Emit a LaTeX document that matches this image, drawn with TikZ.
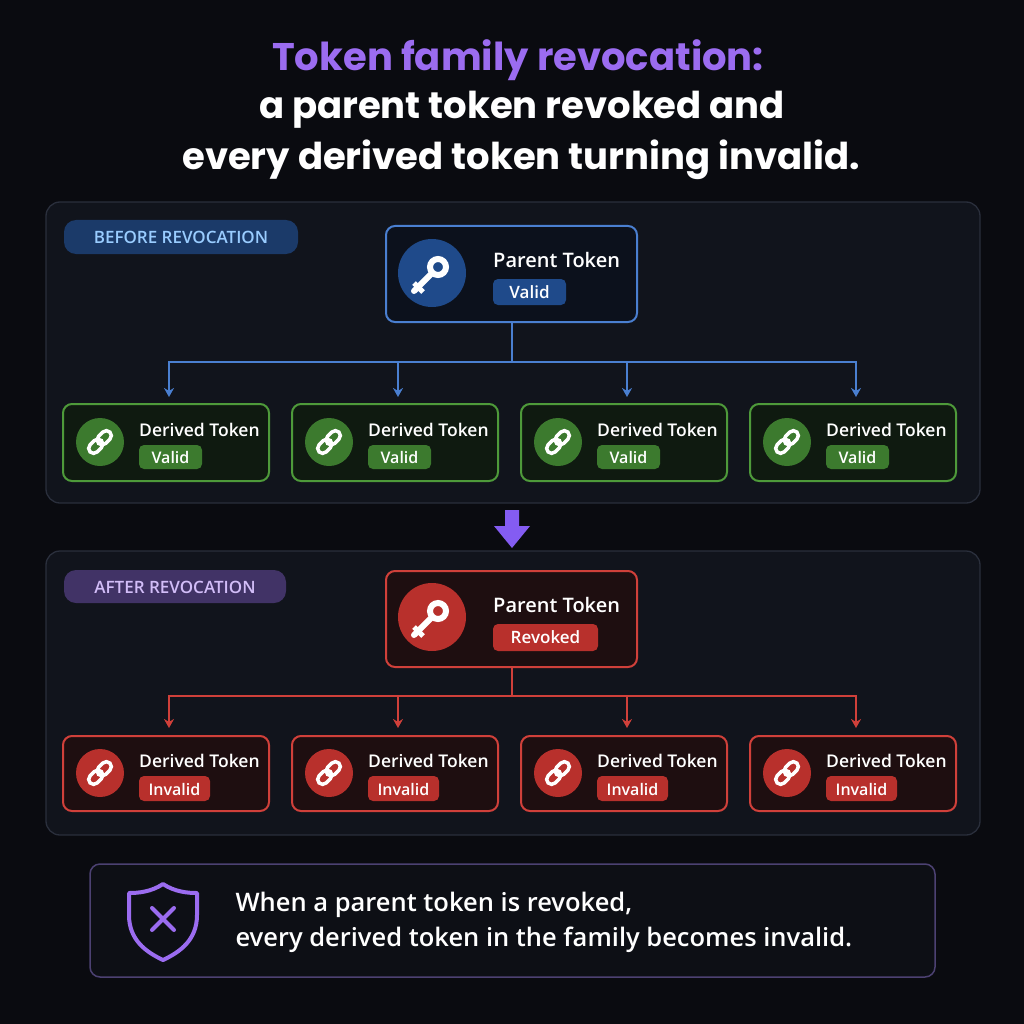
\documentclass[tikz,border=0pt]{standalone}
\usepackage{fontspec}
\setmainfont{Open Sans}[BoldFont={* Semibold},BoldFeatures={FakeBold=0}]
\newfontfamily\titlefont{Poppins}
\usetikzlibrary{arrows.meta,shapes.arrows}
\definecolor{bg}{HTML}{0A0B10}
\definecolor{panel}{HTML}{11141C}
\definecolor{panelb}{HTML}{2A2F3C}
\definecolor{purp}{HTML}{9B6CF0}
\definecolor{blueb}{HTML}{4A7FD0}
\definecolor{bluef}{HTML}{1F4A8A}
\definecolor{greenb}{HTML}{4E9A3A}
\definecolor{greenf}{HTML}{3C7A2E}
\definecolor{greenbg}{HTML}{0F1A10}
\definecolor{redb}{HTML}{D0403A}
\definecolor{redf}{HTML}{B8302C}
\definecolor{redbg}{HTML}{1E0E10}
\tikzset{
  x=1pt,y=-1pt,
  panel/.style={draw=panelb,fill=panel,rounded corners=14pt,line width=1.3pt},
  box/.style={rounded corners=9pt,line width=2pt},
  lbl/.style={text=white,font=\fontsize{20.5}{20.5}\selectfont,anchor=west,inner sep=0},
  dlbl/.style={text=white,font=\fontsize{18}{18}\selectfont,anchor=west,inner sep=0},
  pill/.style={rounded corners=5pt,text=white,font=\fontsize{16.5}{16.5}\selectfont,inner sep=0,anchor=center},
  conn/.style={line width=2.2pt,-{Stealth[length=9pt,width=10pt]}},
  pic key/.pic={
    \draw[white,line width=6pt] (6,-6) circle (8);
    \draw[white,line width=6pt,line cap=round] (0,0) -- (-18,18);
    \draw[white,line width=5pt] (-14,14) -- (-9,19) (-18,10)--(-13,15);
  },
  pic link/.pic={
    \begin{scope}[rotate=45]
    \draw[white,line width=3.5pt,rounded corners=5pt] (-14,-5) rectangle (2,5);
    \draw[white,line width=3.5pt,rounded corners=5pt] (-2,-5) rectangle (14,5);
    \end{scope}
  }
}
\begin{document}
\begin{tikzpicture}
\fill[bg] (0,0) rectangle (1024,1024);
\useasboundingbox (0,0) rectangle (1024,1024);
% title
\node[text=purp,font=\titlefont\bfseries\fontsize{38.5}{38.5}\selectfont] (t1) at (518,60) {Token family revocation:};
\node[text=white,font=\titlefont\bfseries\fontsize{37}{37}\selectfont] (t2) at (522,110) {a parent token revoked and};
\node[text=white,font=\titlefont\bfseries\fontsize{37}{37}\selectfont] (t3) at (521,160) {every derived token turning invalid.};
% panels
\draw[panel] (46,202) rectangle (980,503);
\draw[panel] (46,551) rectangle (980,835);
\fill[rounded corners=12pt,fill=bluef!70!panel] (64,220) rectangle (298,254);
\node[text=blue!25!white!80!cyan,font=\bfseries\fontsize{17}{17}\selectfont] (l1) at (181,237) {BEFORE REVOCATION};
\fill[rounded corners=12pt,fill=purp!35!panel] (64,570) rectangle (286,603);
\node[text=purp!45!white,font=\bfseries\fontsize{17}{17}\selectfont] (l2) at (175,587) {AFTER REVOCATION};
% before parent
\draw[box,draw=blueb,fill=bluef!10!bg] (386,226) rectangle (637,322);
\fill[bluef] (432,273) circle (34);
\pic at (432,273) {pic key};
\node[lbl,font=\bfseries\fontsize{20}{20}\selectfont] at (493,260) {Parent Token};
\fill[bluef,rounded corners=5pt] (493,279) rectangle (566,305);
\node[pill,font=\bfseries\fontsize{17}{17}\selectfont] at (529.5,292) {Valid};
% after parent
\draw[box,draw=redb,fill=redbg] (386,571) rectangle (637,667);
\fill[redf] (432,617) circle (34);
\pic at (432,617) {pic key};
\node[lbl,font=\bfseries\fontsize{20}{20}\selectfont] at (493,605) {Parent Token};
\fill[redf,rounded corners=5pt] (493,624) rectangle (598,651);
\node[pill,font=\bfseries\fontsize{17}{17}\selectfont] at (545.5,637.5) {Revoked};
% derived
\foreach \x [count=\i] in {63,292,521,750}{
  \draw[box,draw=greenb,fill=greenbg] (\x,404) rectangle (\x+206,481);
  \fill[greenf] (\x+37,442) circle (24);
  \pic at (\x+37,442) {pic link};
  \node[dlbl,font=\bfseries\fontsize{17.5}{17.5}\selectfont] at (\x+76,430) {Derived Token};
  \fill[greenf,rounded corners=5pt] (\x+76,445) rectangle (\x+139,469);
  \node[pill,font=\bfseries\fontsize{16}{16}\selectfont] at (\x+107.5,457) {Valid};
  \draw[box,draw=redb,fill=redbg] (\x,736) rectangle (\x+206,811);
  \fill[redf] (\x+37,773) circle (24);
  \pic at (\x+37,773) {pic link};
  \node[dlbl,font=\bfseries\fontsize{17.5}{17.5}\selectfont] at (\x+76,761) {Derived Token};
  \fill[redf,rounded corners=5pt] (\x+76,776) rectangle (\x+147,801);
  \node[pill,font=\bfseries\fontsize{16}{16}\selectfont] at (\x+111.5,789) {Invalid};
  \coordinate (db\i) at (\x+106,397);
  \coordinate (da\i) at (\x+106,728);
}
% connectors
\draw[blueb,line width=2.2pt] (512,322) -- (512,362);
\draw[blueb,line width=2.2pt] (168,362) -- (857,362);
\foreach \i in {1,...,4}{\draw[blueb,conn] (db\i |- 0,362) -- (db\i);}
\draw[redb,line width=2.2pt] (512,667) -- (512,696);
\draw[redb,line width=2.2pt] (168,696) -- (857,696);
\foreach \i in {1,...,4}{\draw[redb,conn] (da\i |- 0,696) -- (da\i);}
% purple arrow
\fill[purp!85!blue] (505,510) -- (519,510) -- (519,526) -- (530,526) -- (512,548) -- (494,526) -- (505,526) -- cycle;
% bottom box
\draw[draw=purp!30!panelb,fill=bg!60!panel,rounded corners=10pt,line width=1.5pt] (90,864) rectangle (935,977);
\draw[purp,line width=4pt,line join=round] (163,884) .. controls (175,892) and (188,893) .. (197,893) -- (197,915) .. controls (197,940) and (180,952) .. (163,960) .. controls (146,952) and (129,940) .. (129,915) -- (129,893) .. controls (138,893) and (151,892) .. (163,884) -- cycle;
\draw[purp,line width=4pt,line cap=round] (152,908) -- (174,930) (174,908) -- (152,930);
\node[text=white,font=\bfseries\fontsize{25.5}{25.5}\selectfont,anchor=west] (b1) at (232,905) {When a parent token is revoked,};
\node[text=white,font=\bfseries\fontsize{25.5}{25.5}\selectfont,anchor=west] (b2) at (232,940) {every derived token in the family becomes invalid.};
\end{tikzpicture}
\end{document}
